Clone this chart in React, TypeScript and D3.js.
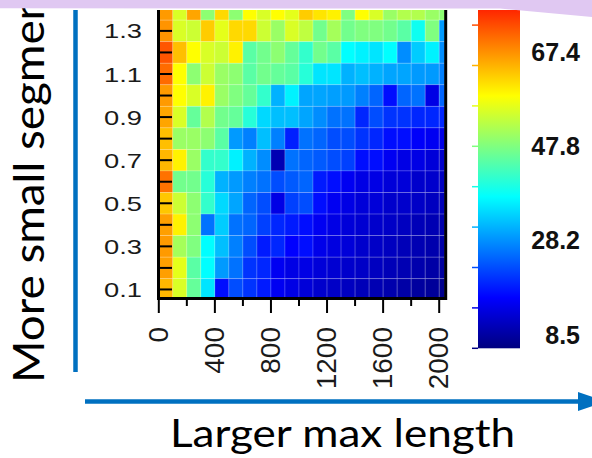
import React from "react";
import * as d3 from "d3";

// Bins along the x axis (lower edge of each max-length bin)
const maxLength = [0, 100, 200, 300, 400, 500, 600, 700, 800, 900, 1000, 1100, 1200, 1300, 1400, 1500, 1600, 1700, 1800, 1900, 2000];
// Row centres along the y axis, top to bottom
const segmentLevels = [1.4, 1.3, 1.2, 1.1, 1.0, 0.9, 0.8, 0.7, 0.6, 0.5, 0.4, 0.3, 0.2, 0.1];

// Cell values, one array per row (same order as segmentLevels)
const row14 = [65.3, 54.6, 64.4, 48.7, 60.4, 48.7, 57.5, 54.6, 57.5, 55.5, 61.4, 59.5, 58.5, 47.7, 57.5, 54.6, 49.7, 51.6, 51.6, 49.7, 48.7];
const row13 = [65.7, 54.6, 53.6, 61.4, 55.5, 60.4, 60.4, 53.6, 49.7, 54.6, 52.6, 46.7, 50.6, 46.7, 47.7, 47.7, 46.7, 44.8, 39.0, 47.7, 30.1];
const row12 = [70.6, 62.4, 57.5, 54.6, 53.6, 58.5, 44.8, 46.7, 48.7, 45.7, 41.8, 46.7, 44.8, 37.9, 36.9, 35.9, 37.9, 29.1, 34.0, 36.9, 29.1];
const row11 = [68.9, 57.5, 48.7, 53.6, 49.7, 48.7, 44.8, 46.7, 45.7, 44.8, 40.8, 35.9, 35.9, 32.0, 33.0, 32.0, 31.0, 31.0, 30.1, 30.1, 28.1];
const row10 = [65.3, 57.5, 54.6, 58.5, 49.7, 47.7, 45.7, 41.8, 32.0, 36.9, 31.0, 31.0, 30.5, 30.1, 28.1, 26.1, 19.3, 26.1, 27.1, 16.3, 26.1];
const row09 = [64.4, 54.6, 45.7, 51.6, 46.7, 45.7, 40.8, 35.0, 33.0, 33.0, 31.0, 29.1, 27.1, 27.1, 21.2, 24.2, 22.2, 22.2, 21.2, 21.2, 21.2];
const row08 = [62.4, 49.7, 49.7, 48.7, 44.8, 30.1, 28.1, 33.0, 28.1, 20.7, 27.1, 26.1, 24.2, 24.2, 22.2, 21.2, 19.3, 19.3, 17.9, 17.3, 16.3];
const row07 = [63.0, 58.5, 49.7, 41.8, 41.8, 36.9, 32.0, 29.1, 12.4, 27.1, 26.1, 25.2, 24.2, 23.2, 19.3, 19.3, 17.3, 16.3, 16.3, 15.4, 14.4];
const row06 = [68.3, 46.7, 46.7, 40.8, 32.0, 30.1, 28.1, 27.1, 24.2, 25.2, 26.1, 20.3, 19.3, 17.3, 16.3, 16.3, 15.4, 15.4, 14.4, 14.4, 13.4];
const row05 = [61.8, 53.6, 48.7, 41.8, 35.0, 31.0, 26.1, 24.2, 16.3, 23.2, 24.2, 19.3, 17.3, 16.3, 15.4, 15.4, 14.4, 14.4, 14.0, 13.4, 12.8];
const row04 = [64.9, 58.5, 48.7, 27.1, 34.0, 27.1, 26.1, 23.2, 21.2, 20.3, 19.3, 17.3, 16.3, 15.4, 14.8, 14.4, 14.0, 13.4, 12.8, 12.4, 12.0];
const row03 = [65.3, 50.6, 47.7, 37.9, 33.0, 28.1, 24.2, 20.3, 21.2, 18.3, 19.3, 16.7, 15.9, 15.4, 14.4, 14.0, 13.4, 12.8, 12.4, 12.0, 11.6];
const row02 = [64.9, 55.5, 44.8, 37.9, 30.1, 27.1, 22.2, 21.2, 17.3, 16.3, 16.3, 15.4, 14.8, 14.4, 14.0, 13.4, 12.8, 12.4, 12.0, 11.4, 10.9];
const row01 = [63.0, 54.6, 45.7, 35.9, 19.3, 24.2, 22.2, 20.3, 17.3, 16.3, 15.4, 14.4, 14.0, 13.4, 12.8, 12.4, 12.0, 11.4, 10.9, 10.5, 9.5];
const rows = [row14, row13, row12, row11, row10, row09, row08, row07, row06, row05, row04, row03, row02, row01];

// Axis ticks and labels
const yTicks = [0.1, 0.2, 0.3, 0.4, 0.5, 0.6, 0.7, 0.8, 0.9, 1.0, 1.1, 1.2, 1.3];
const yTickLabels = [0.1, 0.3, 0.5, 0.7, 0.9, 1.1, 1.3];
const xTicks = [0, 200, 400, 600, 800, 1000, 1200, 1400, 1600, 1800, 2000];
const xTickLabels = [0, 400, 800, 1200, 1600, 2000];

// Colour bar
const colorDomain = [8.5, 86.9];
const colorLabels = [8.5, 28.2, 47.8, 67.4];
const colorTickFractions = [0, 0.1, 0.2, 0.3, 0.4, 0.5, 0.6, 0.7, 0.8];
const jetStops = [0, 0.125, 0.375, 0.625, 0.875, 1];
const jetColors = ["#000080", "#0000ff", "#00ffff", "#ffff00", "#ff0000", "#800000"];

const BLUE = "#0070c0";
const TICK_FONT = "'Liberation Sans', Arial, sans-serif";
const TITLE_FONT = "Lato, 'Open Sans', sans-serif";

export default function App() {
  const W = 592;
  const H = 458;
  const plot = { left: 157.4, right: 444.8, top: 10, bottom: 297 };
  const binW = 100;
  const binH = 0.1;

  const x = d3.scaleLinear().domain([-10, 2040]).range([plot.left, plot.right]);
  const y = d3.scaleLinear().domain([0.065, 1.397]).range([plot.bottom, plot.top]);

  const jet = d3
    .scaleLinear<string>()
    .domain(jetStops)
    .range(jetColors)
    .interpolate(d3.interpolateRgb)
    .clamp(true);
  const toFrac = d3.scaleLinear().domain(colorDomain).range([0, 1]);
  const color = (v: number) => jet(toFrac(v));

  // colour bar geometry
  const bar = { x: 478, w: 42, top: 10 };
  const cbY = d3.scaleLinear().domain(colorDomain).range([348.3, -55.7]);
  const labelY = d3.scaleLinear().domain([8.5, 67.4]).range([335, 52]);

  const yLabelSize = 21;
  const cbLabelSize = 25;

  return (
    <svg
      width={W}
      height={H}
      viewBox={`0 0 ${W} ${H}`}
      style={{ position: "absolute", left: 0, top: 0, background: "#fff" }}
    >
      <defs>
        <clipPath id="plot-clip">
          <rect x={plot.left} y={plot.top} width={plot.right - plot.left} height={plot.bottom - plot.top} />
        </clipPath>
        <linearGradient
          id="jet-grad"
          gradientUnits="userSpaceOnUse"
          x1={0}
          x2={0}
          y1={cbY(colorDomain[0])}
          y2={cbY(colorDomain[1])}
        >
          {jetStops.map((s, i) => (
            <stop key={i} offset={s} stopColor={jetColors[i]} />
          ))}
        </linearGradient>
      </defs>

      <rect x={0} y={0} width={W} height={H} fill="#fff" />

      {/* heatmap cells */}
      <g clipPath="url(#plot-clip)">
        {rows.map((row, ri) =>
          row.map((v, ci) => {
            const x0 = x(maxLength[ci]);
            const x1 = x(maxLength[ci] + binW);
            const y0 = y(segmentLevels[ri] + binH / 2);
            const y1 = y(segmentLevels[ri] - binH / 2);
            return (
              <rect
                key={`${ri}-${ci}`}
                x={x0}
                y={y0}
                width={x1 - x0}
                height={y1 - y0}
                fill={color(v)}
                stroke="rgba(255,255,255,0.22)"
                strokeWidth={0.8}
              />
            );
          })
        )}
      </g>

      {/* y ticks (inside) */}
      {yTicks.map((t) => (
        <line key={`yt${t}`} x1={plot.left + 1} x2={172} y1={y(t)} y2={y(t)} stroke="#000" strokeWidth={2} />
      ))}
      {yTickLabels.map((t) => (
        <text
          key={`yl${t}`}
          x={142}
          y={y(t) + yLabelSize * 0.36}
          textAnchor="end"
          fontFamily={TICK_FONT}
          fontSize={yLabelSize}
          fill="#1a1a1a"
          textLength={38}
          lengthAdjust="spacingAndGlyphs"
        >
          {t.toFixed(1)}
        </text>
      ))}

      {/* x ticks (outside) */}
      {xTicks.map((t) => (
        <line
          key={`xt${t}`}
          x1={x(t)}
          x2={x(t)}
          y1={plot.bottom + 2}
          y2={t % 400 === 0 ? 313 : 306}
          stroke="#000"
          strokeWidth={2}
        />
      ))}
      {xTickLabels.map((t) => (
        <text
          key={`xl${t}`}
          transform={`translate(${x(t) - 1},327) rotate(-90)`}
          textAnchor="end"
          dy="0.35em"
          fontFamily={TICK_FONT}
          fontSize={28}
          fill="#1a1a1a"
        >
          {t}
        </text>
      ))}

      {/* frame */}
      <line x1={158.5} x2={158.5} y1={plot.top} y2={300} stroke="#000" strokeWidth={3} />
      <line x1={157} x2={447} y1={298.5} y2={298.5} stroke="#000" strokeWidth={3} />
      <line x1={445.7} x2={445.7} y1={plot.top} y2={300} stroke="#000" strokeWidth={3} />

      {/* colour bar */}
      <rect
        x={bar.x}
        y={bar.top}
        width={bar.w}
        height={cbY(colorDomain[0]) - bar.top}
        fill="url(#jet-grad)"
      />
      {colorTickFractions.map((f) => {
        const v = colorDomain[0] + f * (colorDomain[1] - colorDomain[0]);
        return (
          <line
            key={`ct${f}`}
            x1={472}
            x2={bar.x}
            y1={cbY(v)}
            y2={cbY(v)}
            stroke={color(v)}
            strokeWidth={1.5}
          />
        );
      })}
      {colorLabels.map((v) => (
        <text
          key={`cl${v}`}
          x={580}
          y={labelY(v) + cbLabelSize * 0.36}
          textAnchor="end"
          fontFamily={TICK_FONT}
          fontWeight="bold"
          fontSize={cbLabelSize}
          fill="#111"
        >
          {v.toFixed(1)}
        </text>
      ))}

      {/* axis annotations */}
      <line x1={75.5} x2={75.5} y1={10} y2={372} stroke={BLUE} strokeWidth={4.5} />
      <line x1={85} x2={580} y1={401.5} y2={401.5} stroke={BLUE} strokeWidth={4.5} />
      <polygon points="578,392 578,411 606,401.5" fill={BLUE} />

      <text
        x={170}
        y={447}
        fontFamily={TITLE_FONT}
        fontSize={38}
        fill="#000"
        textLength={345}
        lengthAdjust="spacingAndGlyphs"
      >
        Larger max length
      </text>
      <text
        transform="translate(44,383) rotate(-90) scale(1.065,1)"
        fontFamily={TITLE_FONT}
        fontSize={43}
        fill="#000"
      >
        More small segments
      </text>

      {/* header band */}
      <polygon points="0,0 592,0 592,17 500,8.5 0,8.3" fill="#e0c8f2" />
    </svg>
  );
}
